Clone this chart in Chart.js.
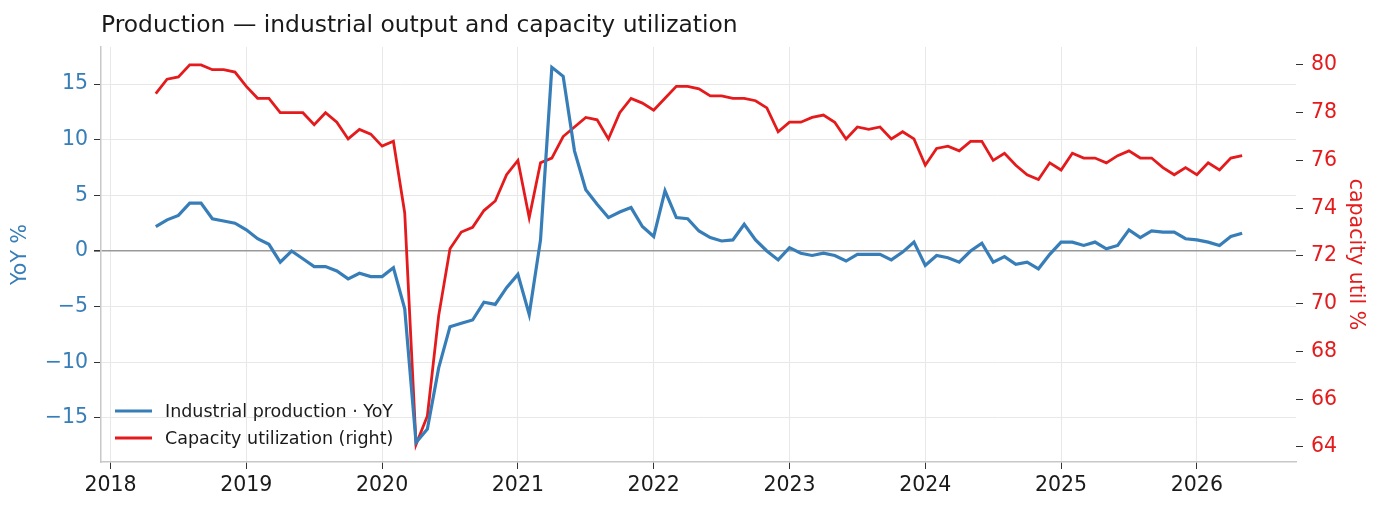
<!DOCTYPE html>
<html>
<head>
<meta charset="utf-8">
<script src="https://cdn.jsdelivr.net/npm/chart.js@4.4.1/dist/chart.umd.min.js"></script>
<style>
  html, body { margin: 0; padding: 0; background: #fff; }
  #wrap { position: relative; width: 1380px; height: 511px; }
</style>
</head>
<body>
<div id="wrap"><canvas id="prod" width="1380" height="511"></canvas></div>
<script>
// monthly, 2018-05 .. 2026-05
const startYear = 2018, startMonth = 5;
const ipYoY = [
    2.2, 2.8, 3.2, 4.3, 4.3, 2.9, 2.7, 2.5,
    1.9, 1.1, 0.6, -1.0, 0.0, -0.7, -1.4, -1.4, -1.8, -2.5, -2.0, -2.3,
    -2.3, -1.5, -5.2, -17.2, -16.0, -10.5, -6.8, -6.5, -6.2, -4.6, -4.8, -3.3,
    -2.1, -5.7, 1.0, 16.5, 15.7, 9.0, 5.5, 4.2, 3.0, 3.5, 3.9, 2.2,
    1.3, 5.4, 3.0, 2.9, 1.8, 1.2, 0.9, 1.0, 2.4, 1.0, 0.0, -0.8,
    0.3, -0.2, -0.4, -0.2, -0.4, -0.9, -0.3, -0.3, -0.3, -0.8, -0.1, 0.8,
    -1.3, -0.4, -0.6, -1.0, 0.0, 0.7, -1.0, -0.5, -1.2, -1.0, -1.6, -0.3,
    0.8, 0.8, 0.5, 0.8, 0.2, 0.5, 1.9, 1.2, 1.8, 1.7, 1.7, 1.1,
    1.0, 0.8, 0.5, 1.3, 1.6
];
const capUtil = [
    78.8, 79.4, 79.5, 80.0, 80.0, 79.8, 79.8, 79.7,
    79.1, 78.6, 78.6, 78.0, 78.0, 78.0, 77.5, 78.0, 77.6, 76.9, 77.3, 77.1,
    76.6, 76.8, 73.8, 64.1, 65.3, 69.5, 72.3, 73.0, 73.2, 73.9, 74.3, 75.4,
    76.0, 73.6, 75.9, 76.1, 77.0, 77.4, 77.8, 77.7, 76.9, 78.0, 78.6, 78.4,
    78.1, 78.6, 79.1, 79.1, 79.0, 78.7, 78.7, 78.6, 78.6, 78.5, 78.2, 77.2,
    77.6, 77.6, 77.8, 77.9, 77.6, 76.9, 77.4, 77.3, 77.4, 76.9, 77.2, 76.9,
    75.8, 76.5, 76.6, 76.4, 76.8, 76.8, 76.0, 76.3, 75.8, 75.4, 75.2, 75.9,
    75.6, 76.3, 76.1, 76.1, 75.9, 76.2, 76.4, 76.1, 76.1, 75.7, 75.4, 75.7,
    75.4, 75.9, 75.6, 76.1, 76.2
];
const yearTicks = [2018, 2019, 2020, 2021, 2022, 2023, 2024, 2025, 2026];
const leftTicks = [-15, -10, -5, 0, 5, 10, 15];
const rightTicks = [64, 66, 68, 70, 72, 74, 76, 78, 80];

const BLUE = '#377eb8';
const RED = '#e41a1c';
const FONT = "'DejaVu Sans', sans-serif";
const TICK_SIZE = 20.5;

function monthX(i) {
    const m = startMonth - 1 + i;
    return startYear + Math.floor(m / 12) + (m % 12) / 12;
}
const ipPoints = ipYoY.map((v, i) => ({ x: monthX(i), y: v }));
const cuPoints = capUtil.map((v, i) => ({ x: monthX(i), y: v }));

function minus(v) {
    return String(v).replace('-', '\u2212');
}

// title and legend drawn in the chart area, matplotlib style
const extras = {
    id: 'extras',
    afterDraw(chart) {
        const ctx = chart.ctx;
        const a = chart.chartArea;
        ctx.save();
        ctx.fillStyle = '#1a1a1a';
        ctx.font = '23.4px ' + FONT;
        ctx.textBaseline = 'middle';
        ctx.textAlign = 'left';
        ctx.fillText('Production \u2014 industrial output and capacity utilization', a.left, 26);

        const items = [
            { label: 'Industrial production \u00b7 YoY', color: BLUE },
            { label: 'Capacity utilization (right)', color: RED }
        ];
        ctx.font = '17.5px ' + FONT;
        items.forEach((it, k) => {
            const y = a.bottom - 51 + k * 27;
            ctx.strokeStyle = it.color;
            ctx.lineWidth = 3;
            ctx.beginPath();
            ctx.moveTo(a.left + 14, y);
            ctx.lineTo(a.left + 51, y);
            ctx.stroke();
            ctx.fillStyle = '#1a1a1a';
            ctx.fillText(it.label, a.left + 64, y + 1);
        });
        ctx.restore();
    }
};

const ctx = document.getElementById('prod').getContext('2d');
new Chart(ctx, {
    type: 'line',
    data: {
        datasets: [
            {
                label: 'Industrial production \u00b7 YoY',
                data: ipPoints,
                yAxisID: 'y',
                borderColor: BLUE,
                backgroundColor: BLUE,
                borderWidth: 3.2,
                pointRadius: 0,
                tension: 0
            },
            {
                label: 'Capacity utilization (right)',
                data: cuPoints,
                yAxisID: 'y2',
                borderColor: RED,
                backgroundColor: RED,
                borderWidth: 2.8,
                pointRadius: 0,
                tension: 0
            }
        ]
    },
    options: {
        responsive: false,
        animation: false,
        layout: { padding: { top: 47, left: 0, right: 0, bottom: 0 } },
        plugins: {
            legend: { display: false },
            title: { display: false },
            tooltip: { enabled: false }
        },
        scales: {
            x: {
                type: 'linear',
                min: 2017.93,
                max: 2026.73,
                afterBuildTicks: s => { s.ticks = yearTicks.map(v => ({ value: v })); },
                afterFit: s => { s.height = 49; },
                ticks: {
                    color: '#1a1a1a',
                    font: { family: FONT, size: TICK_SIZE },
                    padding: 4,
                    maxRotation: 0,
                    callback: v => String(v)
                },
                grid: {
                    color: '#e8e8e8',
                    tickColor: '#333',
                    tickLength: 7,
                    lineWidth: 1
                },
                border: { color: '#c8c8c8', width: 1.5 }
            },
            y: {
                position: 'left',
                min: -18.96,
                max: 18.33,
                afterBuildTicks: s => { s.ticks = leftTicks.map(v => ({ value: v })); },
                afterFit: s => { s.width = 101; },
                title: {
                    display: true,
                    text: 'YoY %',
                    color: BLUE,
                    font: { family: FONT, size: TICK_SIZE },
                    padding: { top: 8, bottom: 4 }
                },
                ticks: {
                    color: BLUE,
                    font: { family: FONT, size: TICK_SIZE },
                    padding: 6,
                    callback: v => minus(v)
                },
                grid: {
                    color: c => (c.tick && c.tick.value === 0) ? '#999999' : '#e8e8e8',
                    lineWidth: c => (c.tick && c.tick.value === 0) ? 1.6 : 1,
                    tickColor: '#333',
                    tickLength: 7
                },
                border: { color: '#c8c8c8', width: 1.5 }
            },
            y2: {
                position: 'right',
                min: 63.37,
                max: 80.75,
                afterBuildTicks: s => { s.ticks = rightTicks.map(v => ({ value: v })); },
                afterFit: s => { s.width = 84; },
                title: {
                    display: true,
                    text: 'capacity util %',
                    color: RED,
                    font: { family: FONT, size: TICK_SIZE },
                    padding: { top: 12, bottom: 4 }
                },
                ticks: {
                    color: RED,
                    font: { family: FONT, size: TICK_SIZE },
                    padding: 8
                },
                grid: {
                    drawOnChartArea: false,
                    tickColor: '#333',
                    tickLength: 7
                },
                border: { display: false }
            }
        }
    },
    plugins: [extras]
});
</script>
</body>
</html>
